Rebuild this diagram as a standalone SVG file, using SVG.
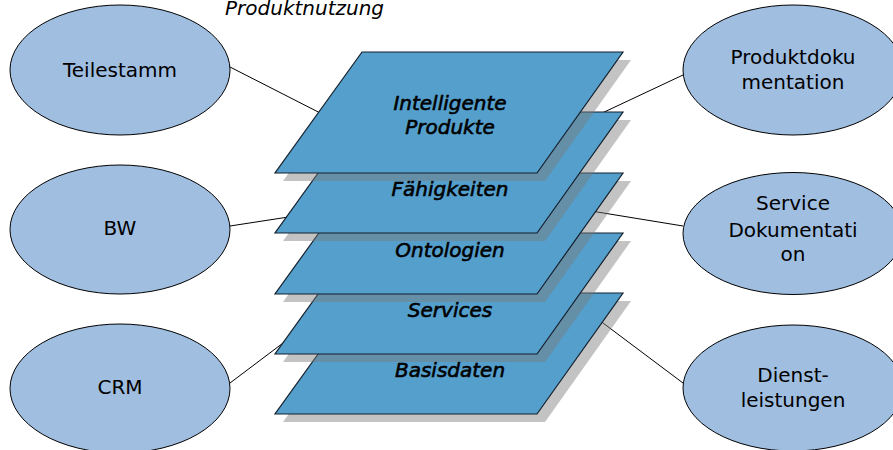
<svg xmlns="http://www.w3.org/2000/svg" xmlns:xlink="http://www.w3.org/1999/xlink" width="893" height="450" viewBox="0 0 893 450">
  <style>
    .bg { fill: #ffffff; }
    .ell { fill: #A0BEE0; stroke: #000000; stroke-width: 1; }
    .etxt { font-family: "DejaVu Sans", "Verdana", sans-serif; font-size: 20px; fill: #000000; text-anchor: middle; }
    .plate { fill: #559FCC; stroke: #14202c; stroke-width: 1.2; stroke-linejoin: miter; }
    .shadow { fill: #7a7a7a; fill-opacity: 0.45; stroke: none; }
    .ptxt { font-family: "DejaVu Sans", "Verdana", sans-serif; font-size: 20px; font-style: italic; fill: #000000; stroke: #000000; stroke-width: 0.6; text-anchor: middle; }
    .title { font-family: "DejaVu Sans", "Verdana", sans-serif; font-size: 20px; font-style: italic; fill: #000000; }
    .conn { stroke: #000000; stroke-width: 1; fill: none; }
  </style>
  <defs>
    <polygon id="plateShape" points="87,0 348,0 262,121 0,121"/>
  </defs>
  <rect class="bg" x="0" y="0" width="893" height="450"/>

  <text class="title" x="225" y="15">Produktnutzung</text>

  <g id="connectors">
    <line class="conn" x1="230" y1="67" x2="330" y2="118"/>
    <line class="conn" x1="683" y1="75" x2="600" y2="114"/>
    <line class="conn" x1="230" y1="226" x2="295" y2="216"/>
    <line class="conn" x1="683" y1="226" x2="585" y2="210"/>
    <line class="conn" x1="230" y1="383" x2="295" y2="334"/>
    <line class="conn" x1="683" y1="383" x2="595" y2="317"/>
  </g>

  <g id="node-teilestamm">
    <ellipse class="ell" cx="120" cy="70" rx="110" ry="65"/>
    <text class="etxt" x="120" y="77">Teilestamm</text>
  </g>
  <g id="node-bw">
    <ellipse class="ell" cx="120" cy="229.5" rx="110" ry="64.5"/>
    <text class="etxt" x="120" y="235">BW</text>
  </g>
  <g id="node-crm">
    <ellipse class="ell" cx="120" cy="388.5" rx="110" ry="64.5"/>
    <text class="etxt" x="120" y="394">CRM</text>
  </g>
  <g id="node-produktdokumentation">
    <ellipse class="ell" cx="793" cy="70" rx="110" ry="65"/>
    <text class="etxt" x="793" y="64">Produktdoku</text>
    <text class="etxt" x="793" y="89">mentation</text>
  </g>
  <g id="node-servicedokumentation">
    <ellipse class="ell" cx="793" cy="233.5" rx="110" ry="61"/>
    <text class="etxt" x="793" y="210">Service</text>
    <text class="etxt" x="793" y="237">Dokumentati</text>
    <text class="etxt" x="793" y="261">on</text>
  </g>
  <g id="node-dienstleistungen">
    <ellipse class="ell" cx="793" cy="388" rx="110" ry="63"/>
    <text class="etxt" x="793" y="382">Dienst-</text>
    <text class="etxt" x="793" y="407">leistungen</text>
  </g>

  <g id="layer-basisdaten" transform="translate(275,293)">
    <use xlink:href="#plateShape" href="#plateShape" class="shadow" x="8" y="8"/>
    <use xlink:href="#plateShape" href="#plateShape" class="plate"/>
    <text class="ptxt" x="175" y="84">Basisdaten</text>
  </g>
  <g id="layer-services" transform="translate(275,233)">
    <use xlink:href="#plateShape" href="#plateShape" class="shadow" x="8" y="8"/>
    <use xlink:href="#plateShape" href="#plateShape" class="plate"/>
    <text class="ptxt" x="175" y="84">Services</text>
  </g>
  <g id="layer-ontologien" transform="translate(275,173)">
    <use xlink:href="#plateShape" href="#plateShape" class="shadow" x="8" y="8"/>
    <use xlink:href="#plateShape" href="#plateShape" class="plate"/>
    <text class="ptxt" x="175" y="84">Ontologien</text>
  </g>
  <g id="layer-faehigkeiten" transform="translate(275,112)">
    <use xlink:href="#plateShape" href="#plateShape" class="shadow" x="8" y="8"/>
    <use xlink:href="#plateShape" href="#plateShape" class="plate"/>
    <text class="ptxt" x="175" y="84">Fähigkeiten</text>
  </g>
  <g id="layer-intelligente-produkte" transform="translate(275,52)">
    <use xlink:href="#plateShape" href="#plateShape" class="shadow" x="8" y="8"/>
    <use xlink:href="#plateShape" href="#plateShape" class="plate"/>
    <text class="ptxt" x="175" y="58">Intelligente</text>
    <text class="ptxt" x="175" y="82">Produkte</text>
  </g>
</svg>
